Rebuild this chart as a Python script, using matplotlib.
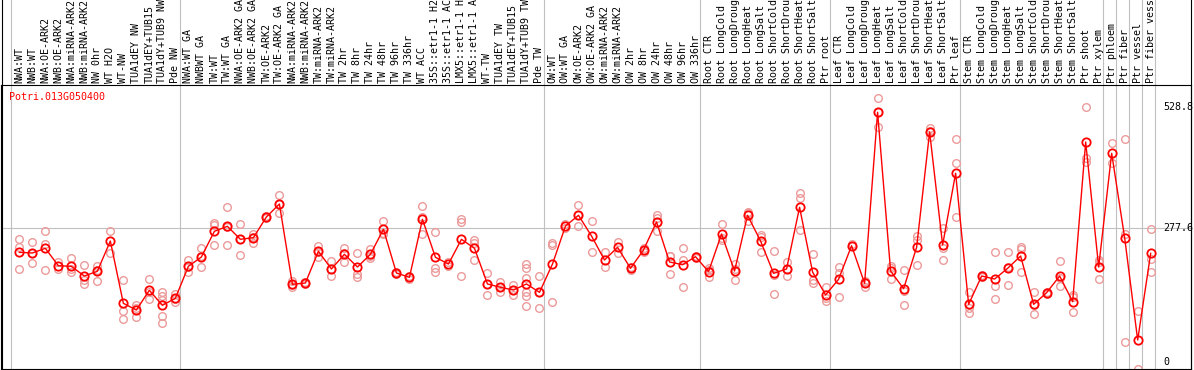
import matplotlib
matplotlib.use("Agg")
import matplotlib.pyplot as plt
from matplotlib.lines import Line2D
from matplotlib.transforms import blended_transform_factory

gene = "Potri.013G050400"

samples = ["NWA:WT", "NWB:WT", "NWA:OE-ARK2", "NWB:OE-ARK2", "NWA:miRNA-ARK2", "NWB:miRNA-ARK2",
	"NW 0hr", "WT H2O", "WT-NW", "TUA1dEY NW", "TUA1dEY+TUB15", "TUA1dY+TUB9 NW", "Pde NW",
	"NWA:WT GA", "NWBWT GA", "TW:WT", "TW:WT GA", "NWA:OE-ARK2 GA", "NWB:OE-ARK2 GA", "TW:OE-ARK2",
	"TW:OE-ARK2 GA", "NWA:miRNA-ARK2", "NWB:miRNA-ARK2", "TW:miRNA-ARK2", "TW:miRNA-ARK2",
	"TW 2hr", "TW 8hr", "TW 24hr", "TW 48hr", "TW 96hr", "TW 336hr", "WT ACC",
	"35S::etr1-1 H2O", "35S::etr1-1 ACC", "LMX5::etr1-1 H2O", "LMX5::etr1-1 ACC", "WT-TW",
	"TUA1dEY TW", "TUA1dEY+TUB15 TW", "TUA1dY+TUB9 TW", "Pde TW",
	"OW:WT", "OW:WT GA", "OW:OE-ARK2", "OW:OE-ARK2 GA", "OW:miRNA-ARK2", "OW:miRNA-ARK2",
	"OW 2hr", "OW 8hr", "OW 24hr", "OW 48hr", "OW 96hr", "OW 336hr",
	"Root CTR", "Root LongCold", "Root LongDrought", "Root LongHeat", "Root LongSalt",
	"Root ShortCold", "Root ShortDrought", "Root ShortHeat", "Root ShortSalt", "Ptr root",
	"Leaf CTR", "Leaf LongCold", "Leaf LongDrought", "Leaf LongHeat", "Leaf LongSalt",
	"Leaf ShortCold", "Leaf ShortDrought", "Leaf ShortHeat", "Leaf ShortSalt", "Ptr leaf",
	"Stem CTR", "Stem LongCold", "Stem LongDrought", "Stem LongHeat", "Stem LongSalt",
	"Stem ShortCold", "Stem ShortDrought", "Stem ShortHeat", "Stem ShortSalt",
	"Ptr shoot", "Ptr xylem", "Ptr phloem", "Ptr fiber", "Ptr vessel", "Ptr fiber vessel"]

# mean expression per sample
means = [227.5, 226, 235.8, 199.7, 198.4, 178.3, 188.1, 250.9, 121.7, 107.8,
	148.7, 117.6, 132.1, 198.4, 217.7, 271, 281.4, 254.5, 257.8, 300.7,
	327.7, 161.1, 163.8, 229.6, 192.9, 223.3, 197, 223.3, 275.2, 184.6,
	175.6, 295.9, 217.1, 203.2, 254.4, 235.8, 161.8, 154.9, 149.3, 161.8,
	144.5, 203.2, 282, 304.2, 261.3, 211.5, 237.8, 194.3, 232.3, 290.3,
	207.4, 201.8, 218.4, 187.3, 265.4, 188.7, 304.2, 250.9, 183.9, 192.9,
	320.8, 186.6, 139, 171.5, 241.2, 163.2, 517.8, 188.7, 152, 237.8,
	477, 242.6, 391.3, 119.6, 178.3, 172.1, 194.3, 219.8, 119.6, 143.8,
	178.3, 125.1, 456.2, 197, 432.8, 257.2, 45.6, 225.4]

# individual replicates
replicates = [
	[255.1, 237.9, 192.9], [248.2, 226, 204.7], [271.7, 244.7, 190.2], [206.8, 192.9],
	[215, 193.6, 187.3], [200.5, 170, 161.1], [199.7, 190.2, 168], [271.7, 226.7],
	[169.4, 106.4, 88.5], [118.2, 111, 94], [171.5, 145, 130], [144.5, 137.5, 128.6, 95.4, 81.5],
	[141.7, 130, 125.1], [211.5, 196, 187.3], [236.4, 219, 197], [288.9, 284.1, 242.6],
	[321.4, 280, 242.6], [285.5, 256, 221.9], [266.1, 259.9, 247.4], [303.4, 298.6],
	[345.7, 328, 309], [168, 159, 156.2], [166, 161.6], [241.2, 229, 218.4],
	[208.8, 192, 177.7], [237, 226, 207], [226, 181.9, 176.3], [235, 220, 215],
	[292.4, 268, 264.8], [187.3, 181.9], [179, 172], [322.9, 301.4, 264.8],
	[268.9, 194.3, 186], [207, 200], [296.6, 289.7, 178.3], [253, 246.2, 210.9],
	[184.6, 162, 139], [165.3, 155, 144.5], [159.7, 149, 139],
	[203.2, 194.3, 174.9, 145, 137.5, 116.1], [177.7, 144.5, 111.3], [247.4, 242.6, 124.4],
	[287, 277], [325, 305, 282.7], [292.4, 227.5], [227.5, 196.3],
	[248.2, 225.4], [197.7, 190.9], [236, 233, 228], [304.2, 299.3, 271.7],
	[220.5, 219, 182.5], [235.8, 211.5, 154.9], [219.5, 216], [195.6, 190, 175.6],
	[285.5, 258, 253], [203.9, 193, 169.4], [311.7, 308, 293], [263.4, 259.9, 228.7],
	[229.6, 180.4, 140.4], [207.4, 193, 177.7], [349.8, 339.5, 273.7], [224, 170, 164.5],
	[154.9, 132.1, 127.2], [196.3, 185.3, 134.2], [244, 240], [168, 165, 156],
	[546.9, 518, 488], [199, 195, 172], [190.2, 148, 118.2], [261.9, 253, 201.2],
	[484.6, 479, 467.3], [277.2, 235.8, 211.5], [462.5, 412, 300], [144.5, 112, 102.3],
	[181, 176], [227.5, 157, 130], [227.5, 196, 159.7], [238, 234, 187],
	[146.1, 118.2, 99.5], [146, 141], [208.8, 175, 157], [139, 134.2, 103.7],
	[528.2, 422.4, 415.4], [211, 208, 171.5], [453.5, 412], [461.8, 264.8, 40.8],
	[105.8, -14], [275.2, 213, 186]]

# group separators sit just after these samples
separators = [-0.64, 12.36, 40.36, 52.36, 62.36, 72.36, 83.36, 84.36, 85.36, 86.36, 87.36]
yticks = [528.8, 277.6, 0]

W, H = 1194, 370
font = dict(family="DejaVu Sans Mono", size=7.2)

fig = plt.figure(figsize=(W / 100, H / 100), dpi=100)
fig.patch.set_facecolor("white")
ax = fig.add_axes([1 / W, 1 / H, 1190 / W, 284 / H])
ax.set_xlim(-1.408, 90.1)
ax.set_ylim(-14.5, 574.4)
ax.set_xticks([])
ax.set_yticks([])
for s in ax.spines.values():
	s.set_color("black")
	s.set_linewidth(0.8)

grey = "#c0c0c0"
head = 1 + 85 / 284
for sx in separators:
	ax.axvline(sx, ymin=0, ymax=head, color=grey, lw=0.8, clip_on=False, zorder=1)
ax.axhline(277.6, color=grey, lw=0.8, zorder=1)

# left/right frame lines also run through the header
fig.add_artist(Line2D([1.5 / W, 1.5 / W], [0, 1], transform=fig.transFigure, color="black", lw=0.8))
fig.add_artist(Line2D([1191 / W, 1191 / W], [0, 1], transform=fig.transFigure, color="black", lw=0.8))

xs = list(range(len(samples)))
for i, r in enumerate(replicates):
	ax.plot([i] * len(r), r, "o", mfc="none", mec="#ec9a9a", ms=5.5, mew=1.0, zorder=2)
ax.plot(xs, means, "-", color="red", lw=1.0, zorder=3)
ax.plot(xs, means, "o", mfc="none", mec="red", ms=6, mew=1.3, zorder=4)

# sample names in the header
trans = blended_transform_factory(ax.transData, ax.transAxes)
for i, name in enumerate(samples):
	ax.text(i, 1.007, name, transform=trans, rotation=90, ha="center", va="bottom",
		fontdict=font, color="black")

ax.text(-0.77, 550, gene, ha="left", va="center", color="red", fontdict=font)
for v in yticks:
	ax.text(88.0, v, str(v) if v else "0", ha="left", va="center", color="black",
		fontdict=font, clip_on=False)

fig.savefig("out.png", dpi=100)
